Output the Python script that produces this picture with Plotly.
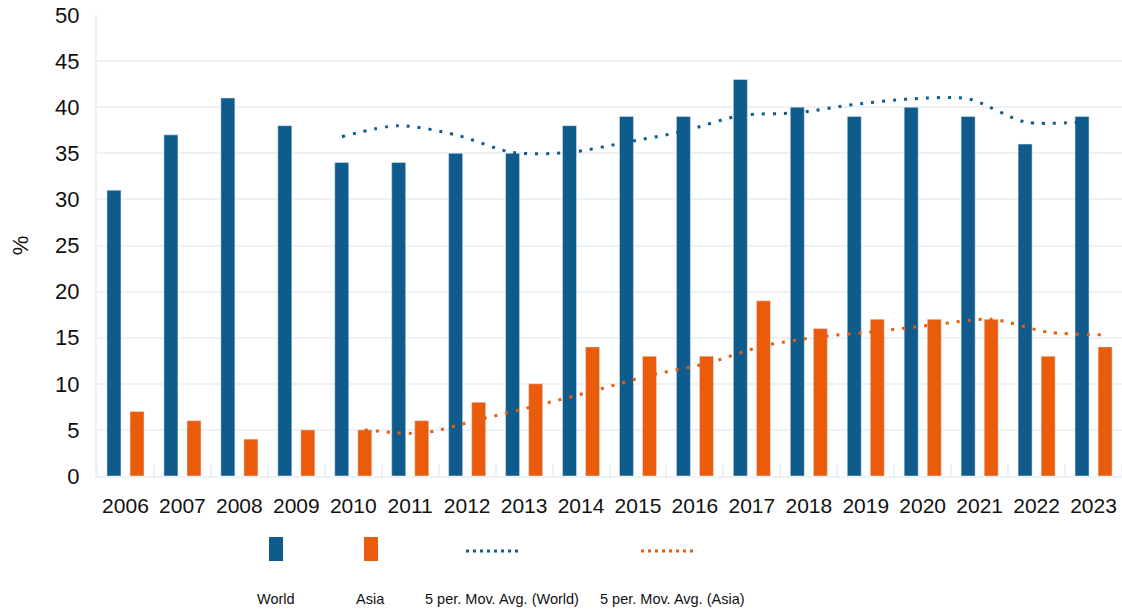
import plotly.graph_objects as go

years = ["2006", "2007", "2008", "2009", "2010", "2011", "2012", "2013", "2014",
         "2015", "2016", "2017", "2018", "2019", "2020", "2021", "2022", "2023"]
world = [31, 37, 41, 38, 34, 34, 35, 35, 38, 39, 39, 43, 40, 39, 40, 39, 36, 39]
asia = [7, 6, 4, 5, 5, 6, 8, 10, 14, 13, 13, 19, 16, 17, 17, 17, 13, 14]

# 5 period moving averages, as drawn (first value at 2010)
ma_years = years[4:]
world_ma = [36.8, 38.0, 37.0, 35.1, 35.1, 36.2, 37.4, 39.1, 39.4, 40.3, 40.9, 40.9, 38.4, 38.4]
asia_ma = [5.0, 4.65, 6.1, 7.6, 9.2, 10.9, 12.2, 14.1, 15.1, 15.7, 16.4, 17.0, 15.6, 15.3]

legend_names = ["World", "Asia", "5 per. Mov. Avg. (World)", "5 per. Mov. Avg. (Asia)"]

BLUE = "#0f5c8c"
ORANGE = "#ea5b0c"
GRID = "#eef1f5"
FONT = "Liberation Sans, Arial, sans-serif"

W, H = 1122, 611
ML, MT, MB = 97, 15, 135

idx = {y: i for i, y in enumerate(years)}
x_bar = [idx[y] for y in years]
x_ma = [idx[y] for y in ma_years]

BAR_W = 0.246
fig = go.Figure()
fig.add_trace(go.Bar(x=x_bar, y=world, name="World", marker_color=BLUE,
                     width=BAR_W, offset=-0.325))
fig.add_trace(go.Bar(x=x_bar, y=asia, name="Asia", marker_color=ORANGE,
                     width=BAR_W, offset=0.08))
# trendlines sit at the centre of their own series' bars
fig.add_trace(go.Scatter(x=[v - 0.2 for v in x_ma], y=world_ma, mode="lines",
                         name="5 per. Mov. Avg. (World)",
                         line=dict(color=BLUE, width=3, dash="3px,8px", shape="spline", smoothing=0.8)))
fig.add_trace(go.Scatter(x=[v + 0.2 for v in x_ma], y=asia_ma, mode="lines",
                         name="5 per. Mov. Avg. (Asia)",
                         line=dict(color=ORANGE, width=3, dash="3px,8px", shape="spline", smoothing=0.8)))


def px_to_paper(px, py):
    pw = W - ML
    ph = H - MT - MB
    return (px - ML) / pw, (H - MB - py) / ph


# custom legend: symbols on one row, labels below
sym_x = [276, 371, 494, 669]
for i, name in enumerate(legend_names):
    cx = sym_x[i]
    if i < 2:
        x0, y0 = px_to_paper(cx - 7, 561)
        x1, y1 = px_to_paper(cx + 7, 537)
        fig.add_shape(type="rect", xref="paper", yref="paper", x0=x0, x1=x1, y0=y0, y1=y1,
                      fillcolor=[BLUE, ORANGE][i], line_width=0)
    else:
        x0, yy = px_to_paper(cx - 28, 551)
        x1, _ = px_to_paper(cx + 28, 551)
        fig.add_shape(type="line", xref="paper", yref="paper", x0=x0, x1=x1, y0=yy, y1=yy,
                      line=dict(color=[BLUE, ORANGE][i - 2], width=3, dash="3px,4px"))
label_x = [276, 370, 502, 672]
for i, name in enumerate(legend_names):
    lx, ly = px_to_paper(label_x[i], 599)
    fig.add_annotation(text=name, x=lx, y=ly, xref="paper", yref="paper", showarrow=False,
                       xanchor="center", yanchor="middle",
                       font=dict(family=FONT, size=14.5, color="#111111"))

fig.update_layout(
    width=W, height=H, autosize=False,
    margin=dict(l=ML, r=0, t=MT, b=MB),
    plot_bgcolor="white", paper_bgcolor="white",
    barmode="overlay", showlegend=False,
    font=dict(family=FONT, size=22, color="#111111"),
)
fig.update_xaxes(
    range=[-0.5, len(years) - 0.5], tickvals=x_bar, ticktext=years,
    showgrid=False, zeroline=False, showline=True, linecolor=GRID, linewidth=2,
    ticks="", ticklabelstandoff=10, tickfont=dict(size=21),
    minor=dict(tick0=-0.5, dtick=1, ticks="inside", ticklen=12, tickwidth=2,
               tickcolor=GRID, showgrid=False),
)
fig.update_yaxes(
    range=[0, 50], dtick=5, showgrid=True, gridcolor=GRID, gridwidth=2,
    zeroline=False, showline=True, linecolor=GRID, linewidth=2,
    ticks="", ticklabelstandoff=11, tickfont=dict(size=22),
    title=dict(text="%", standoff=20, font=dict(size=22)),
)

fig.write_html("out.html", config={"displayModeBar": False},
               post_script="document.body.style.margin='0';")
